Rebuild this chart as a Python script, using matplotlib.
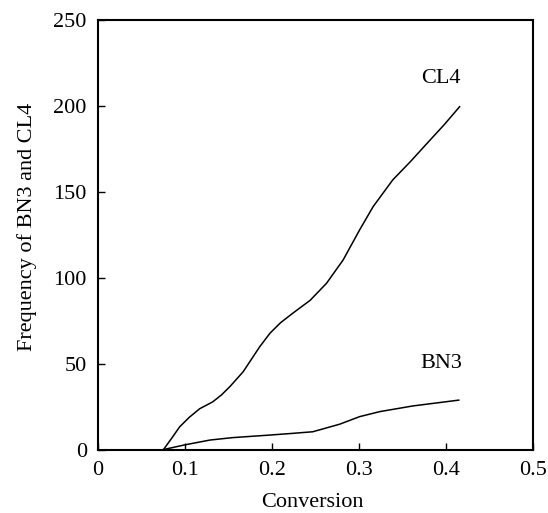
import matplotlib
matplotlib.use("Agg")
import matplotlib.pyplot as plt

# values
cl4_x = [0.075, 0.085, 0.094, 0.105, 0.117, 0.132, 0.142, 0.152, 0.167, 0.186, 0.198, 0.21,
         0.224, 0.244, 0.263, 0.282, 0.301, 0.3165, 0.339, 0.36, 0.378, 0.398, 0.416]
cl4_y = [0, 7, 13.5, 19, 24, 28, 32, 37, 45.5, 60, 68, 74,
         79.5, 87, 97, 110.5, 128, 141.5, 157, 168, 178, 189, 199.6]

bn3_x = [0.073, 0.1, 0.129, 0.155, 0.198, 0.222, 0.247, 0.278, 0.301, 0.324, 0.362, 0.415]
bn3_y = [0, 3, 5.8, 7.2, 8.7, 9.6, 10.6, 15, 19.4, 22.3, 25.6, 29]

xticks = [0, 0.1, 0.2, 0.3, 0.4, 0.5]
xticklabels = ["0", "0.1", "0.2", "0.3", "0.4", "0.5"]
yticks = [0, 50, 100, 150, 200, 250]

plt.rcParams['font.family'] = ['Liberation Serif', 'DejaVu Serif']
fs = 16

fig = plt.figure(figsize=(5.48, 5.13), dpi=100)
ax = fig.add_axes([0.1788, 0.1228, 0.7932, 0.8382])

ax.plot(cl4_x, cl4_y, color='black', lw=1.1)
ax.plot(bn3_x, bn3_y, color='black', lw=1.1)

ax.text(0.395, 216, "CL4", fontsize=fs, ha='center', va='center')
ax.text(0.395, 50.4, "BN3", fontsize=fs, ha='center', va='center')

ax.set_xlim(0, 0.5)
ax.set_ylim(0, 250)
ax.set_xticks(xticks)
ax.set_xticklabels(xticklabels)
ax.set_yticks(yticks)
ax.tick_params(direction='in', length=5, width=1, labelsize=fs)
ax.tick_params(axis='x', pad=8)
ax.tick_params(axis='y', pad=8)
for s in ax.spines.values():
    s.set_linewidth(1.5)

ax.set_xlabel("Conversion", fontsize=fs)
ax.set_ylabel("Frequency of BN3 and CL4", fontsize=fs)
ax.xaxis.set_label_coords(0.494, -0.1)
ax.yaxis.set_label_coords(-0.14, 0.519)

fig.savefig("out.png", dpi=100)
